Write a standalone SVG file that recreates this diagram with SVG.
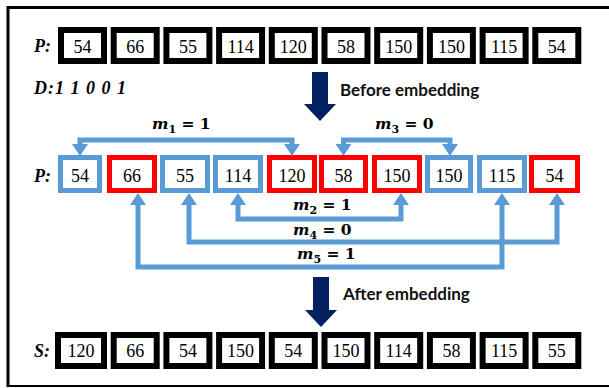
<svg xmlns="http://www.w3.org/2000/svg" width="609" height="388" viewBox="0 0 609 388">
  <style>
    .num { font-family: "Liberation Serif", "Times New Roman", serif; font-size: 18px; text-anchor: middle; fill: #000; }
    .lbl { font-family: "Liberation Serif", "Times New Roman", serif; font-size: 18px; font-weight: bold; font-style: italic; fill: #000; }
    .blk { fill: #fff; stroke: #000; stroke-width: 6; }
    .blu { fill: #fff; stroke: #5b9bd5; stroke-width: 5; }
    .red { fill: #fff; stroke: #ff0000; stroke-width: 5; }
    .link { fill: none; stroke: #5b9bd5; stroke-width: 5; stroke-linejoin: miter; marker-start: url(#head); marker-end: url(#head); }
    .math { font-family: "DejaVu Serif", "Liberation Serif", serif; font-size: 15.5px; font-weight: bold; fill: #000; }
    .cap { font-family: Lato, "Liberation Sans", sans-serif; font-size: 17px; font-weight: bold; fill: #111; }
    .big { fill: #002060; }
  </style>
  <defs>
    <marker id="head" markerUnits="userSpaceOnUse" markerWidth="12" markerHeight="16" refX="0" refY="8" orient="auto-start-reverse" viewBox="0 0 12 16">
      <path d="M0,0 L12,8 L0,16 Z" fill="#5b9bd5"/>
    </marker>
  </defs>

  <!-- outer frame -->
  <g id="frame" fill="none" stroke="#000">
    <path d="M8,7.5 H609" stroke-width="3"/>
    <path d="M8,6 V387" stroke-width="3"/>
    <path d="M8,386 H609" stroke-width="2"/>
  </g>

  <!-- row P (original pixels) -->
  <g id="rowP">
    <text class="lbl" x="34" y="52">P:</text>
    <g id="p1"><rect class="blk" x="61" y="30" width="43" height="31"/><text class="num" x="82.5" y="53">54</text></g>
    <g id="p2"><rect class="blk" x="113.7" y="30" width="43" height="31"/><text class="num" x="135.2" y="53">66</text></g>
    <g id="p3"><rect class="blk" x="166.4" y="30" width="43" height="31"/><text class="num" x="187.9" y="53">55</text></g>
    <g id="p4"><rect class="blk" x="219.1" y="30" width="43" height="31"/><text class="num" x="240.6" y="53">114</text></g>
    <g id="p5"><rect class="blk" x="271.8" y="30" width="43" height="31"/><text class="num" x="293.3" y="53">120</text></g>
    <g id="p6"><rect class="blk" x="324.5" y="30" width="43" height="31"/><text class="num" x="346" y="53">58</text></g>
    <g id="p7"><rect class="blk" x="377.2" y="30" width="43" height="31"/><text class="num" x="398.7" y="53">150</text></g>
    <g id="p8"><rect class="blk" x="429.9" y="30" width="43" height="31"/><text class="num" x="451.4" y="53">150</text></g>
    <g id="p9"><rect class="blk" x="482.6" y="30" width="43" height="31"/><text class="num" x="504.1" y="53">115</text></g>
    <g id="p10"><rect class="blk" x="535.3" y="30" width="43" height="31"/><text class="num" x="556.8" y="53">54</text></g>
  </g>

  <text id="bits" class="lbl" x="34" y="94" font-size="17" letter-spacing="1">D:1 1 0 0 1</text>

  <!-- before embedding arrow -->
  <g id="before">
    <polygon class="big" points="312,72 328,72 328,104 336,104 320,121 304,104 312,104"/>
    <text class="cap" x="340" y="96">Before embedding</text>
  </g>

  <!-- pairing connectors -->
  <g id="connectors">
    <path class="link" d="M80,144 V140 H292 V144"/>
    <path class="link" d="M343.5,144 V140 H450 V144"/>
    <path class="link" d="M238,205 V219 H401 V205"/>
    <path class="link" d="M189,205 V242 H557 V205"/>
    <path class="link" d="M138,205 V267 H502 V205"/>
  </g>

  <!-- pair labels -->
  <g id="labels">
    <text class="math" x="152" y="129"><tspan font-style="italic">m</tspan><tspan font-size="11" dy="4">1</tspan><tspan dy="-4"> = 1</tspan></text>
    <text class="math" x="375" y="129"><tspan font-style="italic">m</tspan><tspan font-size="11" dy="4">3</tspan><tspan dy="-4"> = 0</tspan></text>
    <text class="math" x="293" y="210"><tspan font-style="italic">m</tspan><tspan font-size="11" dy="4">2</tspan><tspan dy="-4"> = 1</tspan></text>
    <text class="math" x="293" y="235"><tspan font-style="italic">m</tspan><tspan font-size="11" dy="4">4</tspan><tspan dy="-4"> = 0</tspan></text>
    <text class="math" x="297" y="259"><tspan font-style="italic">m</tspan><tspan font-size="11" dy="4">5</tspan><tspan dy="-4"> = 1</tspan></text>
  </g>

  <!-- row P (paired) -->
  <g id="rowPM">
    <text class="lbl" x="34" y="182">P:</text>
    <g id="q1"><rect class="blu" x="60.5" y="157.5" width="39" height="33"/><text class="num" x="80" y="182">54</text></g>
    <g id="q2"><rect class="red" x="109.5" y="157.5" width="45" height="33"/><text class="num" x="132" y="182">66</text></g>
    <g id="q3"><rect class="blu" x="162.5" y="157.5" width="45" height="33"/><text class="num" x="185" y="182">55</text></g>
    <g id="q4"><rect class="blu" x="215.5" y="157.5" width="45" height="33"/><text class="num" x="238" y="182">114</text></g>
    <g id="q5"><rect class="red" x="269.5" y="157.5" width="45" height="33"/><text class="num" x="292" y="182">120</text></g>
    <g id="q6"><rect class="red" x="321.5" y="157.5" width="44" height="33"/><text class="num" x="343.5" y="182">58</text></g>
    <g id="q7"><rect class="red" x="374.5" y="157.5" width="45" height="33"/><text class="num" x="397" y="182">150</text></g>
    <g id="q8"><rect class="blu" x="427.5" y="157.5" width="43" height="33"/><text class="num" x="449" y="182">150</text></g>
    <g id="q9"><rect class="blu" x="479.5" y="157.5" width="45" height="33"/><text class="num" x="502" y="182">115</text></g>
    <g id="q10"><rect class="red" x="531.5" y="157.5" width="46" height="33"/><text class="num" x="554.5" y="182">54</text></g>
  </g>

  <!-- after embedding arrow -->
  <g id="after">
    <polygon class="big" points="313,277 329,277 329,310 337,310 321,327 305,310 313,310"/>
    <text class="cap" x="343" y="300">After embedding</text>
  </g>

  <!-- row S -->
  <g id="rowS">
    <text class="lbl" x="34" y="357">S:</text>
    <g id="s1"><rect class="blk" x="58" y="335" width="46" height="31"/><text class="num" x="81" y="357">120</text></g>
    <g id="s2"><rect class="blk" x="113.7" y="335" width="43" height="31"/><text class="num" x="135.2" y="357">66</text></g>
    <g id="s3"><rect class="blk" x="166.4" y="335" width="43" height="31"/><text class="num" x="187.9" y="357">54</text></g>
    <g id="s4"><rect class="blk" x="219.1" y="335" width="43" height="31"/><text class="num" x="240.6" y="357">150</text></g>
    <g id="s5"><rect class="blk" x="271.8" y="335" width="43" height="31"/><text class="num" x="293.3" y="357">54</text></g>
    <g id="s6"><rect class="blk" x="324.5" y="335" width="43" height="31"/><text class="num" x="346" y="357">150</text></g>
    <g id="s7"><rect class="blk" x="377.2" y="335" width="43" height="31"/><text class="num" x="398.7" y="357">114</text></g>
    <g id="s8"><rect class="blk" x="429.9" y="335" width="43" height="31"/><text class="num" x="451.4" y="357">58</text></g>
    <g id="s9"><rect class="blk" x="482.6" y="335" width="43" height="31"/><text class="num" x="504.1" y="357">115</text></g>
    <g id="s10"><rect class="blk" x="535.3" y="335" width="43" height="31"/><text class="num" x="556.8" y="357">55</text></g>
  </g>
</svg>
